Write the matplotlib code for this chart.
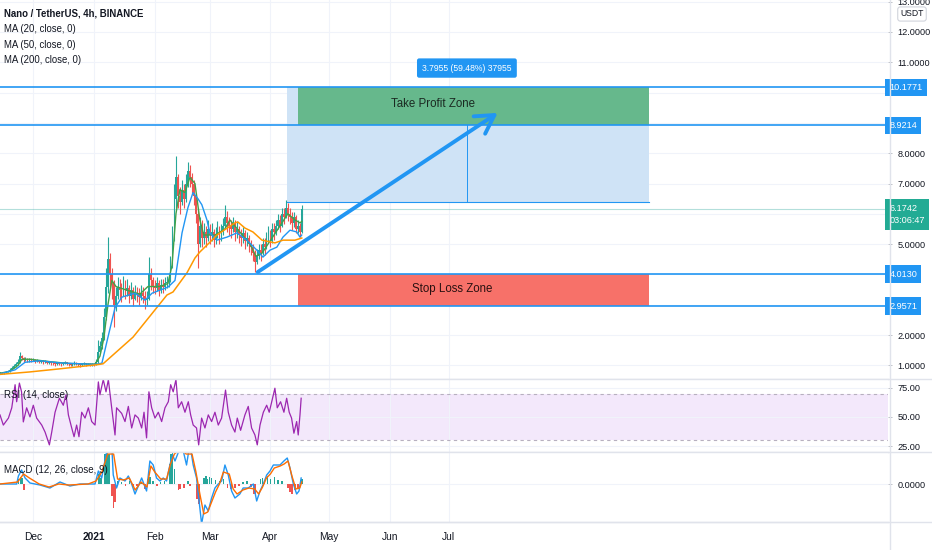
import matplotlib
matplotlib.use('Agg')
import matplotlib.pyplot as plt
import matplotlib.transforms as mtransforms
from matplotlib.lines import Line2D
from matplotlib.patches import Rectangle
import numpy as np
import pandas as pd

FONT = ['Liberation Sans Narrow', 'Liberation Sans', 'DejaVu Sans']
plt.rcParams['font.family'] = FONT

# ---------------- data ----------------
START = pd.Timestamp('2020-11-14')   # day 0 of the series

CLOSES = [0.75, 0.74, 0.76, 0.78, 0.80, 0.85, 0.92, 0.98, 1.05, 1.10,
          1.30, 1.25, 1.18, 1.22, 1.15, 1.20, 1.17, 1.19, 1.14, 1.16,
          1.12, 1.15, 1.10, 1.12, 1.08, 1.10, 1.07, 1.06, 1.04, 1.08,
          1.05, 1.03, 1.06, 1.10, 1.07, 1.04, 1.02, 1.05, 1.08, 1.06,
          1.03, 1.00, 1.04, 1.06, 1.03, 1.05, 1.02, 1.04, 1.03, 1.10,
          1.45, 1.65, 1.90, 2.60, 3.60, 4.50, 4.00, 3.70, 3.00, 3.30,
          3.60, 3.50, 3.40, 3.70, 3.45, 3.55, 3.30, 3.50, 3.20, 3.40,
          3.35, 3.25, 3.40, 3.30, 3.15, 3.20, 4.00, 3.80, 3.60, 3.55,
          3.70, 3.50, 3.65, 3.60, 3.70, 3.75, 3.80, 4.30, 5.20, 6.50,
          7.20, 6.60, 6.40, 6.80, 6.50, 7.00, 7.40, 7.20, 7.00, 6.60,
          6.00, 5.00, 5.60, 5.20, 5.40, 5.20, 5.50, 5.30, 5.40, 5.15,
          5.30, 5.50, 5.25, 5.40, 5.60, 5.90, 5.70, 5.60, 5.50, 5.70,
          5.40, 5.50, 5.30, 5.20, 5.35, 5.10, 5.20, 5.00, 4.90, 4.70,
          4.40, 4.60, 4.80, 4.70, 5.00, 4.90, 5.20, 5.30, 5.10, 5.50,
          5.40, 5.60, 5.80, 5.60, 6.00, 5.90, 6.20, 6.00, 5.90, 5.70,
          5.90, 5.50, 5.60, 5.40, 6.17]

HIGHS = [0.78, 0.77, 0.79, 0.81, 0.84, 0.90, 0.97, 1.03, 1.12, 1.20,
         1.45, 1.35, 1.28, 1.27, 1.24, 1.25, 1.23, 1.24, 1.20, 1.21,
         1.18, 1.19, 1.16, 1.16, 1.13, 1.14, 1.12, 1.10, 1.09, 1.12,
         1.10, 1.08, 1.10, 1.15, 1.12, 1.09, 1.07, 1.09, 1.13, 1.11,
         1.08, 1.05, 1.08, 1.10, 1.08, 1.09, 1.07, 1.08, 1.08, 1.20,
         1.85, 1.80, 2.10, 2.90, 4.20, 5.23, 4.70, 4.20, 3.80, 3.60,
         3.90, 3.85, 3.70, 3.95, 3.80, 3.85, 3.65, 3.75, 3.60, 3.65,
         3.60, 3.55, 3.65, 3.60, 3.45, 3.45, 4.57, 4.20, 3.90, 3.80,
         3.90, 3.80, 3.85, 3.85, 3.90, 3.95, 4.00, 4.60, 5.60, 7.00,
         7.90, 7.30, 6.90, 7.10, 7.00, 7.30, 7.70, 7.60, 7.35, 7.10,
         6.70, 6.20, 5.90, 5.80, 5.70, 5.60, 5.80, 5.65, 5.70, 5.50,
         5.55, 5.75, 5.60, 5.65, 5.85, 6.30, 6.10, 5.90, 5.80, 5.90,
         5.80, 5.75, 5.60, 5.50, 5.55, 5.45, 5.40, 5.30, 5.15, 5.00,
         4.80, 4.85, 5.00, 5.00, 5.20, 5.20, 5.40, 5.60, 5.45, 5.70,
         5.70, 5.80, 6.00, 5.95, 6.20, 6.20, 6.45, 6.35, 6.20, 6.05,
         6.05, 5.95, 5.80, 5.70, 6.30]

LOWS = [0.72, 0.71, 0.72, 0.75, 0.77, 0.79, 0.84, 0.90, 0.96, 1.02,
        1.08, 1.18, 1.12, 1.14, 1.10, 1.12, 1.12, 1.13, 1.09, 1.11,
        1.07, 1.09, 1.05, 1.07, 1.03, 1.05, 1.02, 1.01, 0.99, 1.01,
        1.00, 0.98, 1.00, 1.04, 1.02, 0.99, 0.97, 0.99, 1.02, 1.01,
        0.98, 0.95, 0.98, 1.01, 0.99, 1.00, 0.97, 0.99, 0.99, 1.00,
        1.08, 1.40, 1.55, 1.85, 2.50, 3.40, 3.60, 3.20, 2.26, 2.80,
        3.20, 3.20, 3.10, 3.30, 3.20, 3.30, 3.05, 3.20, 2.95, 3.15,
        3.10, 3.00, 3.15, 3.05, 2.85, 3.00, 3.15, 3.50, 3.40, 3.35,
        3.45, 3.30, 3.40, 3.40, 3.50, 3.55, 3.60, 3.75, 4.20, 5.10,
        6.20, 6.20, 6.00, 6.30, 6.20, 6.40, 6.90, 6.90, 6.70, 6.30,
        5.70, 4.20, 4.90, 4.90, 5.00, 4.90, 5.10, 5.00, 5.10, 4.90,
        5.00, 5.20, 5.00, 5.10, 5.30, 5.50, 5.40, 5.30, 5.20, 5.40,
        5.10, 5.20, 5.05, 4.95, 5.05, 4.85, 4.95, 4.75, 4.65, 4.45,
        4.08, 4.35, 4.50, 4.45, 4.65, 4.65, 4.85, 5.05, 4.90, 5.05,
        5.15, 5.30, 5.50, 5.40, 5.55, 5.65, 5.85, 5.75, 5.65, 5.45,
        5.55, 5.35, 5.35, 5.25, 5.35]

MA20_DAYS = [0, 5.1, 9.2, 11.2, 15.3, 25.5, 35, 48.5, 51, 53, 55.1, 57.1, 59.2,
             63.8, 71.4, 75.5, 81.6, 85.7, 87.8, 89.8, 91.8, 94.4, 96.9, 99.5,
             102, 104, 109.7, 114.8, 117.3, 122.4, 127.6, 130.6, 133.7, 137.8,
             142.9, 146.9, 150.5, 153.1, 154]
MA20_VALS = [0.74, 0.80, 1.00, 1.20, 1.20, 1.12, 1.06, 1.04, 1.30, 1.90, 3.00, 3.80, 3.60,
             3.50, 3.35, 3.60, 3.60, 3.70, 4.30, 6.00, 6.80, 6.70, 7.20, 7.00,
             5.80, 5.30, 5.30, 5.50, 5.80, 5.40, 5.00, 4.60, 4.70, 5.10,
             5.60, 6.00, 5.80, 5.70, 5.75]

MA50_DAYS = [0, 7.7, 12.8, 20.4, 30.6, 48.5, 52, 55.1, 58.7, 62.2, 68.9, 74, 77.6,
             85.7, 89.3, 92.9, 95.9, 98.5, 101, 103, 105.6, 107.1, 110.7, 115.8,
             120.9, 126, 131.1, 134.2, 137.8, 141.3, 144.4, 148, 151.5, 153.1, 154]
MA50_VALS = [0.72, 0.85, 1.10, 1.15, 1.08, 1.03, 1.07, 1.93, 2.90, 3.25, 3.38, 3.15, 3.38,
             3.58, 3.80, 5.37, 6.20, 6.70, 6.50, 6.30, 5.80, 5.37, 5.13, 5.23,
             5.37, 5.13, 4.80, 4.57, 4.80, 4.90, 5.23, 5.46, 5.40, 5.23, 5.30]

MA200_DAYS = [0, 15, 30, 49.5, 52.6, 67.9, 85.2, 88.3, 95.4, 99.5, 102, 108.2,
              110.7, 119.9, 121.4, 125, 129.1, 133.7, 140.3, 144.4, 150.5, 154]
MA200_VALS = [0.70, 0.78, 0.88, 1.02, 1.05, 1.93, 3.32, 3.42, 4.05, 4.54, 4.74, 5.13,
              5.30, 5.70, 5.73, 5.53, 5.40, 5.13, 5.04, 5.13, 5.13, 5.20]

RSI_DAYS = [0, 1.7, 4.3, 6, 7.7, 8.5, 9.9, 11, 11.9, 13.6, 15.3, 17, 18.7, 21.3, 23,
            25.2, 26.4, 28.1, 30.3, 32.3, 33.7, 34.9, 36.6, 37.8, 39.1, 40.3, 41.7,
            43.4, 45.1, 46.8, 48.5, 50.2, 51, 52.7, 54.1, 55.3, 57, 58.7, 59.5, 62.1,
            63.8, 65.5, 67.2, 68.9, 70.6, 72.3, 73.5, 74.8, 76, 77.4, 79.1, 80.8,
            82.5, 84.2, 85.9, 87.1, 88.4, 89.8, 91, 92.7, 94.4, 96.1, 97.3, 98.6,
            100.3, 101.4, 102.9, 104.6, 106.3, 108, 109.7, 111.4, 113.1, 115.1,
            116.5, 118.2, 119.9, 121.1, 122.8, 125, 126.7, 128.4, 130.1, 131.3,
            132.7, 134.4, 136.1, 137.4, 139.1, 140.3, 141.5, 143.2, 144.9, 146.3,
            147.6, 148.8, 150, 151.4, 152.2, 153.1, 153.7]
RSI_VALS = [51.7, 43, 49, 57.8, 77.6, 63, 79, 71.5, 45.7, 57.8, 50, 60, 49, 43, 37,
            26, 37, 54, 66, 60, 69, 51.7, 40.5, 33, 43, 33, 54,
            49, 57.8, 46, 43, 80, 69, 82, 71.5, 82, 57.8, 34.5, 57.8, 53,
            46, 59, 40.5, 51.7, 49, 40.5, 54, 32, 71.5, 57.8, 49, 54,
            46, 57.8, 63, 77.6, 71.5, 82, 57.8, 63, 54, 63, 51.7, 43,
            40.5, 26, 49, 40.5, 51.7, 46, 54, 43, 49, 73,
            54, 43, 37, 49, 38.5, 51.7, 59, 40.5, 34.5, 26,
            43, 54, 60, 54, 66, 74.6, 57.8, 63, 54, 66,
            54, 49, 36, 46, 34.5, 51.7, 66]

MACD_DAYS = [0, 5, 8.5, 9.4, 11, 12.8, 15.3, 20.4, 25.5, 30.6, 35.7, 40.8, 45.9, 48.5,
             50.2, 51.9, 54.1, 55.3, 57, 57.8, 59.5, 61.2, 63.8, 65.5, 67.2, 68.9,
             70.6, 72.3, 74.8, 76.5, 78.2, 79.9, 81.6, 83.3, 85, 86.7, 88.1, 89.3,
             92.7, 95.2, 96.9, 98.6, 100.3, 102, 102.9, 104.6, 106.3, 108, 109.7,
             111.4, 113.1, 114.8, 116.5, 118.2, 119.9, 122.4, 124.1, 126.7, 129.3,
             131, 132.7, 134.4, 136.1, 137.8, 139.5, 141.2, 142.9, 144.9, 146.6, 148,
             149.7, 151.4, 152.6, 153.7]
MACD_VALS = [0, 0, 0, 0.08, 0.14, 0.06, 0.01, -0.01, -0.04, 0.02, -0.02, 0, 0, 0.0,
             0.13, 0.06, 0.29, 0.40, 0.40, 0.09, -0.04, 0.06, 0.03, 0.08, 0, -0.10,
             -0.02, 0.06, -0.07, 0.23, 0.19, 0.06, 0.03, 0.06, 0.03, 0.19, 0.29, 0.23,
             0.40, 0.19, 0.40, 0.19, 0.06, -0.24, -0.40, -0.21, -0.27, -0.14, -0.04,
             0, 0.03, 0.19, 0.09, -0.07, -0.14, -0.10, -0.04, -0.04, 0,
             -0.17, -0.07, 0, 0.09, 0.13, 0.19, 0.19, 0.19, 0.23, 0.26, 0.16,
             0, -0.10, -0.07, 0.06]

SIGNAL_DAYS = [0, 9, 12, 15, 20, 25, 30, 35, 45, 49, 52, 55, 58, 60, 63, 66, 69, 72,
               75, 77, 79, 82, 85, 87, 89, 92, 95, 98, 100, 102, 104, 106, 108, 110,
               112, 114, 117, 119, 121, 124, 127, 130, 132, 134, 136, 138, 140, 143,
               145, 147, 149, 151, 153, 154]
SIGNAL_VALS = [0, 0.02, 0.10, 0.06, 0.0, -0.03, 0.0, -0.01, 0, 0.03, 0.12, 0.30, 0.30,
               0.05, 0.04, 0.06, -0.06, 0.02, -0.03, 0.18, 0.12, 0.05, 0.05, 0.20, 0.30,
               0.35, 0.30, 0.30, 0.12, -0.10, -0.30, -0.28, -0.18, -0.08, 0, 0.12, 0.10,
               -0.05, -0.10, -0.06, -0.04, -0.05, -0.10, -0.03, 0.06, 0.10, 0.16, 0.18,
               0.20, 0.23, 0.08, -0.05, -0.04, 0.02]

HIST_DAYS = [9.4, 10.5, 11.2, 12.2, 50.5, 51.5, 53.5, 54.5, 55.5, 57.3, 58, 58.8,
             60, 62, 64, 66, 68, 70, 72, 74, 75.5, 76.5, 78, 80, 82, 84, 86.5, 87.3,
             88, 89, 91, 92, 94, 96, 97, 100.5, 101.5, 104, 105, 106, 107, 108, 110,
             112, 114, 116, 118, 120, 122, 124, 126, 128, 129.5, 130.5, 133, 134, 135,
             136.5, 138, 140, 142, 144, 147, 148, 149, 150.5, 152, 153.5, 154]
HIST_VALS = [0.05, 0.07, 0.06, -0.06, 0.10, 0.06, 0.30, 0.35, 0.30, -0.12, -0.24, -0.18,
             0.03, 0.02, -0.02, 0.03, -0.03, -0.02, 0.02, -0.05, 0.05, 0.07, 0.03, -0.02,
             0.02, 0.03, 0.20, 0.30, 0.35, 0.15, -0.06, -0.05, -0.04, 0.03, -0.02, -0.15,
             -0.20, 0.06, 0.08, 0.05, 0.07, 0.06, 0.04, 0.03, 0.05, -0.04, -0.05, -0.04,
             -0.02, 0.02, 0.03, -0.03, -0.10, -0.12, 0.05, 0.06, 0.04, 0.08, 0.05, 0.07,
             0.04, 0.03, -0.04, -0.08, -0.10, -0.06, -0.05, 0.04, 0.05]

LEVELS = [10.1771, 8.9214, 4.0130, 2.9571]
ENTRY = 6.382
LAST_PRICE = 6.1742
COUNTDOWN = '03:06:47'
TP_LABEL = '3.7955 (59.48%) 37955'
LEGEND = ['Nano / TetherUS, 4h, BINANCE', 'MA (20, close, 0)', 'MA (50, close, 0)',
          'MA (200, close, 0)']
PRICE_LABELED = [1, 2, 5, 7, 8, 11, 12, 13]
PRICE_UNLABELED = [3, 4, 6, 9, 10]

# drawing positions (dates -> day offsets)
def day(s):
    return (pd.Timestamp(s) - START) / pd.Timedelta(days=1)

POS_LEFT = day('2021-04-09 10:00')
BOX_LEFT = day('2021-04-15')
BOX_RIGHT = day('2021-10-11')
MID_LINE = day('2021-07-10 07:00')
TP_TEXT_X = day('2021-06-23')
SL_TEXT_X = day('2021-07-03')
ARROW_FROM = (day('2021-03-25 14:00'), 4.08)
ARROW_TO = (day('2021-07-26'), 9.33)

# ---------------- figure ----------------
W, H = 932, 550
fig = plt.figure(figsize=(W / 100, H / 100), dpi=100)
fig.patch.set_facecolor('white')
XR = 888 / W

def rect(top, bottom):
    return [0, 1 - bottom / H, XR, (bottom - top) / H]

ax = fig.add_axes(rect(0, 379))
rsi = fig.add_axes(rect(379, 452), sharex=ax)
mac = fig.add_axes(rect(452, 522), sharex=ax)

TXT = '#131722'
GRID = '#f0f3fa'
SEP = '#e0e3eb'
BLUE = '#2196F3'
UP, DN = '#26A69A', '#EF5350'
TICKFS = 6.6

for a in (ax, rsi, mac):
    for s in ('left', 'top', 'right'):
        a.spines[s].set_visible(False)
    a.spines['bottom'].set_color(SEP)
    a.spines['bottom'].set_linewidth(1)
    a.yaxis.tick_right()
    a.tick_params(axis='y', which='both', labelsize=TICKFS, colors=TXT, length=3,
                  width=0.6, pad=4)
    a.tick_params(axis='y', which='both', color='#b2b5be')
    a.tick_params(axis='x', length=0)
    a.set_axisbelow(True)
    a.grid(True, which='both', color=GRID, lw=0.8)
    a.set_facecolor('white')

months = pd.date_range('2020-12-01', '2021-07-01', freq='MS')
mdays = [day(m) for m in months]
mlabels = [str(m.year) if m.month == 1 else m.strftime('%b') for m in months]
ax.set_xlim(0, 453.2)
mac.set_xticks(mdays)
mac.set_xticklabels(mlabels, fontsize=7.4, color=TXT)
mac.tick_params(axis='x', pad=7)
for t in mac.get_xticklabels():
    if t.get_text() == '2021':
        t.set_fontweight('bold')
ax.tick_params(axis='x', labelbottom=False)
rsi.tick_params(axis='x', labelbottom=False)

# ---------------- main panel ----------------
closes = np.array(CLOSES)
opens = np.r_[closes[0], closes[:-1]]
days = np.arange(len(closes))
cols = np.where(closes >= opens, UP, DN)
ax.vlines(days, LOWS, HIGHS, colors=cols, lw=0.8, zorder=3)
ax.bar(days, np.maximum(np.abs(closes - opens), 0.02), bottom=np.minimum(opens, closes),
       width=0.9, color=cols, linewidth=0, zorder=3)

ax.plot(MA20_DAYS, MA20_VALS, color='#43A047', lw=1.0, zorder=4)
ax.plot(MA50_DAYS, MA50_VALS, color=BLUE, lw=1.0, zorder=4)
ax.plot(MA200_DAYS, MA200_VALS, color='#FF9800', lw=1.1, zorder=4)

ax.set_ylim(0.548, 13.056)
ax.set_yticks(PRICE_LABELED)
ax.set_yticks(PRICE_UNLABELED, minor=True)
ax.yaxis.set_major_formatter(matplotlib.ticker.FormatStrFormatter('%.4f'))

# long position area
ax.add_patch(Rectangle((POS_LEFT, ENTRY), BOX_RIGHT - POS_LEFT, LEVELS[0] - ENTRY,
                       facecolor='#cfe3f6', edgecolor='none', zorder=1.5))
ax.plot([POS_LEFT, BOX_RIGHT], [ENTRY, ENTRY], color=BLUE, lw=0.8, zorder=2)
ax.plot([MID_LINE, MID_LINE], [ENTRY, LEVELS[0]], color=BLUE, lw=0.7, zorder=2)
ax.add_patch(Rectangle((BOX_LEFT, LEVELS[1]), BOX_RIGHT - BOX_LEFT, LEVELS[0] - LEVELS[1],
                       facecolor='#66b88c', edgecolor='none', zorder=2))
ax.add_patch(Rectangle((BOX_LEFT, LEVELS[3]), BOX_RIGHT - BOX_LEFT, LEVELS[2] - LEVELS[3],
                       facecolor='#f77169', edgecolor='none', zorder=2))
ax.text(TP_TEXT_X, (LEVELS[0] + LEVELS[1]) / 2 + 0.08,
        'Take Profit Zone', ha='center', va='center', fontsize=8.3, color='#1b2a22', zorder=6)
ax.text(SL_TEXT_X, (LEVELS[2] + LEVELS[3]) / 2 + 0.02,
        'Stop Loss Zone', ha='center', va='center', fontsize=8.3, color='#2a1111', zorder=6)
ax.text(MID_LINE, 10.81, TP_LABEL, ha='center', va='center', fontsize=6.2, color='white',
        bbox=dict(boxstyle='round,pad=0.6,rounding_size=0.25', fc=BLUE, ec='none'), zorder=7)

for lv in LEVELS:
    ax.axhline(lv, color=BLUE, lw=1.2, zorder=5)
ax.axhline(LAST_PRICE, color=UP, lw=0.8, alpha=0.35, zorder=2)

ax.annotate('', xy=ARROW_TO, xytext=ARROW_FROM,
            arrowprops=dict(arrowstyle='->,head_length=1.3,head_width=0.75', lw=2.8,
                            color=BLUE, shrinkA=0, shrinkB=0), zorder=6)

# right-axis price tags
tr = mtransforms.blended_transform_factory(ax.transAxes, ax.transData)
for lv in LEVELS:
    ax.text(1.0015, lv, f'{lv:.4f}', transform=tr, ha='left', va='center', fontsize=TICKFS,
            color='white', clip_on=False, zorder=10,
            bbox=dict(boxstyle='square,pad=0.45', fc=BLUE, ec='none'))
ax.text(1.0015, LAST_PRICE + 0.15, f'{LAST_PRICE:.4f}\n{COUNTDOWN}', transform=tr,
        ha='left', va='top', fontsize=TICKFS, color='white', clip_on=False, zorder=10,
        linespacing=1.45, bbox=dict(boxstyle='square,pad=0.5', fc='#22AB94', ec='none'))

# legend text
for k, s in enumerate(LEGEND):
    fig.text(4 / W, 1 - (14 + 15.3 * k) / H, s, fontsize=6.9, color=TXT, va='center',
             fontweight='bold' if k == 0 else 'normal')
fig.text(912 / W, 1 - 14 / H, 'USDT', fontsize=6.2, color=TXT, ha='center', va='center',
         bbox=dict(boxstyle='round,pad=0.3,rounding_size=0.3', fc='white', ec='#d1d4dc', lw=0.8))

# ---------------- RSI ----------------
rsi.axhspan(30, 70, facecolor='#f3e8fb', edgecolor='none', zorder=0.5)
for lv in (30, 70):
    rsi.axhline(lv, color='#b7b0bf', lw=0.8, ls=(0, (3, 3)), zorder=1)
rsi.plot(RSI_DAYS, RSI_VALS, color='#9C27B0', lw=0.9, zorder=3)
rsi.set_ylim(19.9, 82.5)
rsi.set_yticks([25, 50, 75])
rsi.yaxis.set_major_formatter(matplotlib.ticker.FormatStrFormatter('%.2f'))
rsi.text(4 / 888, 0.78, 'RSI (14, close)', transform=rsi.transAxes, fontsize=7,
         color=TXT, va='center', zorder=5)

# ---------------- MACD ----------------
hcols = [UP if v >= 0 else DN for v in HIST_VALS]
mac.bar(HIST_DAYS, HIST_VALS, width=0.8, color=hcols, linewidth=0, zorder=2)
mac.plot(MACD_DAYS, MACD_VALS, color=BLUE, lw=1.0, zorder=3)
mac.plot(SIGNAL_DAYS, SIGNAL_VALS, color='#FF6D00', lw=1.0, zorder=4)
mac.set_ylim(-0.38, 0.32)
mac.set_yticks([0])
mac.yaxis.set_major_formatter(matplotlib.ticker.FormatStrFormatter('%.4f'))
mac.text(4 / 888, 0.74, 'MACD (12, 26, close, 9)', transform=mac.transAxes, fontsize=7,
         color=TXT, va='center', zorder=5)

# separators spanning the price scale
fig.add_artist(Line2D([XR + 2 / W] * 2, [0, 1], color=SEP, lw=1))
for yy in (379, 452, 522):
    fig.add_artist(Line2D([0, 1], [1 - yy / H] * 2, color=SEP, lw=1))

fig.savefig('out.png', dpi=100, facecolor='white')
